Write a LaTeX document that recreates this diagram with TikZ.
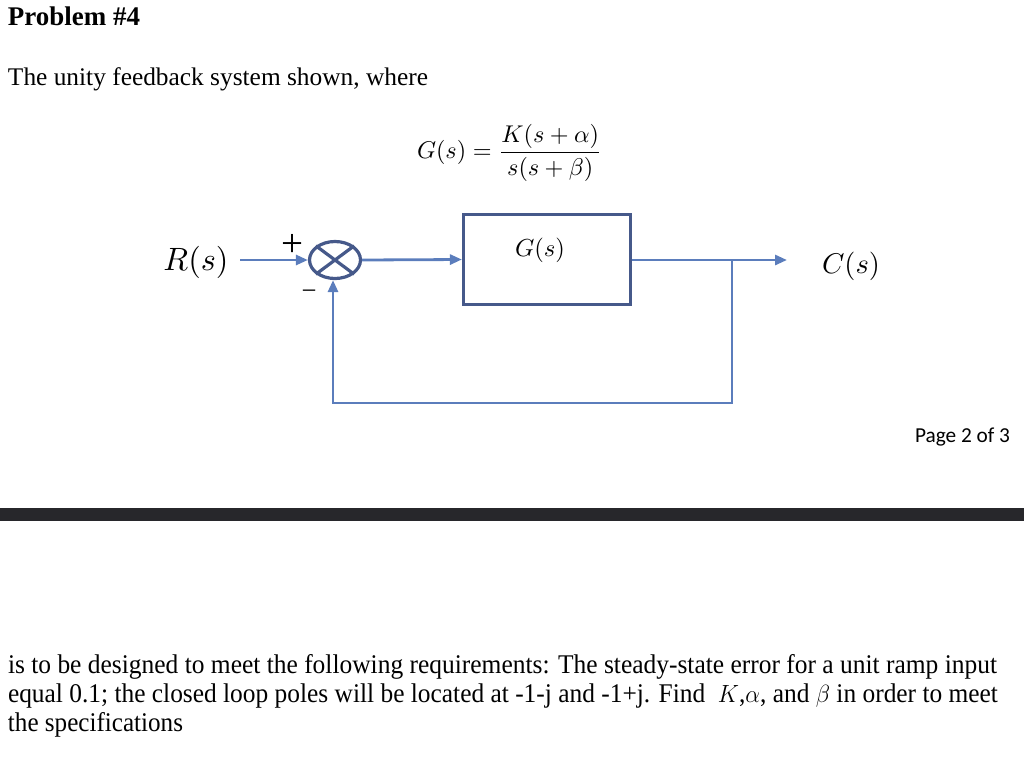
\documentclass[tikz,border=0pt]{standalone}
\usepackage{fontspec}
\setmainfont{Liberation Serif}
\newfontfamily\calibrifont{Carlito}
\usepackage{graphicx}
\usetikzlibrary{arrows.meta,shapes.geometric}
\definecolor{boxblue}{HTML}{46598A}
\definecolor{lineblue}{HTML}{5B7DBC}
\definecolor{bardark}{HTML}{27272B}
\tikzset{
  txt/.style={inner sep=0pt, outer sep=0pt, anchor=base west},
  sig/.style={draw=lineblue, line width=2.8pt},
  arr/.style={sig, -{Triangle[length=12pt,width=10pt]}},
  blk/.style={draw=boxblue, line width=3.2pt, minimum width=167pt, minimum height=90pt, inner sep=0pt},
  sumj/.style={ellipse, draw=boxblue, line width=3.2pt, minimum width=51pt, minimum height=37pt, inner sep=0pt},
  lbl/.style={inner sep=0pt, outer sep=0pt}
}
\begin{document}
\begin{tikzpicture}[x=1pt,y=-1pt]
\useasboundingbox (0,0) rectangle (1024,756);
% headings
\node[txt] (title) at (8,25) {\resizebox{132pt}{!}{\fontsize{26}{30}\selectfont\bfseries Problem \#4}};
\node[txt] (intro) at (8,85) {\resizebox{420pt}{!}{\fontsize{24}{28}\selectfont The unity feedback system shown, where}};
% equation
\node[lbl, anchor=west] (eq) at (417,153) {\resizebox{185pt}{!}{$\displaystyle G(s)=\frac{K(s+\alpha)}{s(s+\beta)}$}};
% block diagram
\node[lbl] (R) at (196,262) {\resizebox{65pt}{!}{$R(s)$}};
\coordinate (rin) at (240,260);
\node[sumj] (sum) at (335,260) {};
\draw[draw=boxblue, line width=3.2pt] (sum.north east) -- (sum.south west) (sum.north west) -- (sum.south east);
\node[lbl] (plus) at (292,245) {\resizebox{22pt}{!}{+}};
\node[lbl] (minus) at (309,295) {\resizebox{15pt}{!}{−}};
\node[blk] (G) at (547,259.5) {};
\node[lbl] (Glbl) at (540,250) {\resizebox{50pt}{!}{$G(s)$}};
\coordinate (branch) at (732,260);
\coordinate (out) at (787,260);
\node[lbl] (C) at (851,266) {\resizebox{58pt}{!}{$C(s)$}};
\coordinate (fbr) at (732,403);
\coordinate (fbl) at (333,403);
\draw[arr] (rin) -- (sum.west);
\draw[arr] (sum.east) -- (G.west);
\draw[arr] (G.east |- branch) -- (out);
\draw[arr, line join=miter] (branch) -- (fbr) -- (fbl) -- (fbl |- sum.south);
% page number
\node[txt] (page) at (915,442) {\resizebox{95pt}{!}{\calibrifont\fontsize{18}{22}\selectfont Page 2 of 3}};
% bar
\fill[bardark] (0,508) rectangle (1024,521);
% bottom text
\node[txt] (l1) at (8,673) {\resizebox{989pt}{\height}{\fontsize{27}{30}\selectfont is to be designed to meet the following requirements: The steady-state error for a unit ramp input}};
\node[txt] (l2) at (8,702) {\resizebox{990pt}{\height}{\fontsize{27}{30}\selectfont equal 0.1; the closed loop poles will be located at -1-j and -1+j. Find~ $K$,$\alpha$, and $\beta$ in order to meet}};
\node[txt] (l3) at (8,731) {\resizebox{175pt}{\height}{\fontsize{27}{30}\selectfont the specifications}};
\end{tikzpicture}
\end{document}
